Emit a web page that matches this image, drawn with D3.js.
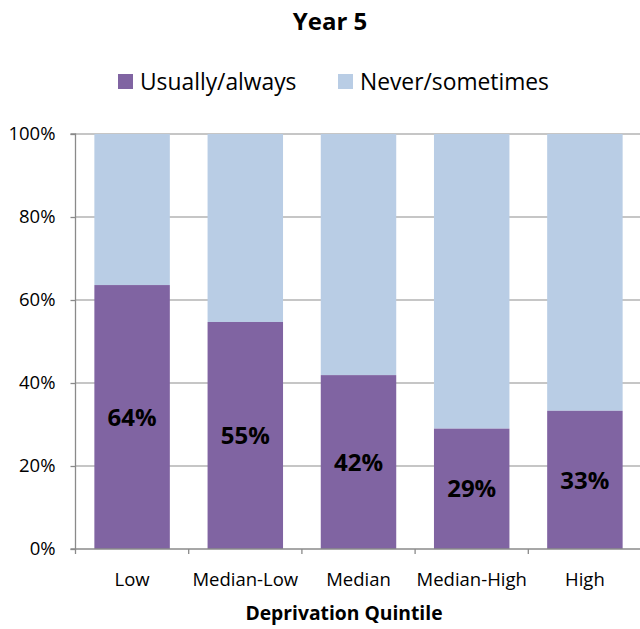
<!DOCTYPE html>
<html><head><meta charset="utf-8">
<script src="https://cdn.jsdelivr.net/npm/d3@7"></script>
<style>body{margin:0;background:#fff;} text{font-family:"Open Sans", Lato, sans-serif;}</style>
</head><body>
<svg id="c" width="640" height="629"></svg>
<script>
const categories = ["Low","Median-Low","Median","Median-High","High"];
const usually = [63.6,54.7,41.9,29.0,33.3];
const labels = ["64%","55%","42%","29%","33%"];
const never = usually.map(v => 100 - v);
const seriesNames = ["Usually/always","Never/sometimes"];
const colors = ["#8064A2","#B9CDE5"];
const yTicks = [0,20,40,60,80,100];

const svg = d3.select("#c");
const mL = 75.5, mR = 641.5, mT = 134, mB = 549;
const x = d3.scaleBand().domain(categories).range([mL, mR]).paddingInner(1/3).paddingOuter(1/6);
const y = d3.scaleLinear().domain([0,100]).range([mB, mT]);

// gridlines
svg.append("g").selectAll("line").data(yTicks.filter(d=>d>0)).join("line")
  .attr("x1", mL).attr("x2", 640).attr("y1", d=>y(d)).attr("y2", d=>y(d))
  .attr("stroke","#b3b3b3").attr("stroke-width",1.3);

const data = categories.map((c,i)=>({c, u:usually[i], n:never[i], l:labels[i]}));
const g = svg.append("g");
g.selectAll(".n").data(data).join("rect")
  .attr("x", d=>x(d.c)).attr("width", x.bandwidth())
  .attr("y", y(100)).attr("height", d=>y(d.u)-y(100)).attr("fill", colors[1]);
g.selectAll(".u").data(data).join("rect")
  .attr("x", d=>x(d.c)).attr("width", x.bandwidth())
  .attr("y", d=>y(d.u)).attr("height", d=>y(0)-y(d.u)).attr("fill", colors[0]);
g.selectAll(".lab").data(data).join("text")
  .attr("x", d=>x(d.c)+x.bandwidth()/2).attr("y", d=>(y(d.u)+y(0))/2)
  .attr("dy","0.36em").attr("text-anchor","middle")
  .attr("font-size",24).attr("font-weight","bold").attr("fill","#000").text(d=>d.l);

// y axis
const ya = svg.append("g").attr("transform",`translate(${mL},0)`)
  .call(d3.axisLeft(y).tickValues(yTicks).tickFormat(d=>d+"%").tickSize(5).tickPadding(15));
ya.select(".domain").attr("stroke","#8a8a8a").attr("stroke-width",1.3).attr("d",`M-5,${mT}H0V${mB}H-5`);
ya.selectAll(".tick line").attr("stroke","#8a8a8a").attr("stroke-width",1.3);
ya.selectAll("text").attr("font-size",18.5).attr("fill","#000").attr("font-family","'Open Sans', sans-serif");

// x axis
const xTicks = categories.map(c => x(c) - x.step()*x.paddingInner()/2);
svg.append("line").attr("x1",mL).attr("x2",640).attr("y1",mB).attr("y2",mB)
  .attr("stroke","#8a8a8a").attr("stroke-width",1.3);
svg.append("g").selectAll("line").data(xTicks).join("line")
  .attr("x1",d=>d).attr("x2",d=>d).attr("y1",mB).attr("y2",mB+5)
  .attr("stroke","#8a8a8a").attr("stroke-width",1.3);
svg.append("g").selectAll("text").data(categories).join("text")
  .attr("x", d=>x(d)+x.bandwidth()/2).attr("y", 586).attr("text-anchor","middle")
  .attr("font-size",18.5).attr("fill","#000").text(d=>d);

svg.append("text").attr("x",344).attr("y",620).attr("text-anchor","middle")
  .attr("font-size",19.3).attr("font-weight","bold").text("Deprivation Quintile");
svg.append("text").attr("x",330).attr("y",30).attr("text-anchor","middle")
  .attr("font-size",24).attr("font-weight","bold").text("Year 5");

// legend
const legX = [118, 338];
const lg = svg.append("g").selectAll("g").data(seriesNames).join("g")
  .attr("transform",(d,i)=>`translate(${legX[i]},74)`);
lg.append("rect").attr("width",15).attr("height",15).attr("fill",(d,i)=>colors[i]);
lg.append("text").attr("x",22).attr("y",16).attr("font-size",22.8).attr("fill","#000").text(d=>d);
</script>
</body></html>
